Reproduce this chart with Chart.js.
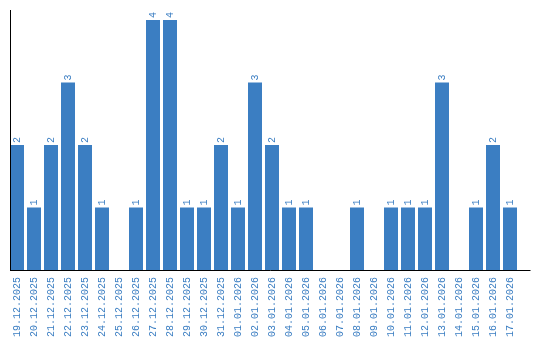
<!DOCTYPE html>
<html>
<head>
<meta charset="utf-8">
<script src="https://cdn.jsdelivr.net/npm/chart.js@4"></script>
<style>
  html, body { margin: 0; padding: 0; background: #fff; }
  #wrap { width: 540px; height: 340px; }
</style>
</head>
<body>
<div id="wrap"><canvas id="grafico"></canvas></div>
<script>
const dias = [
  "19.12.2025", "20.12.2025", "21.12.2025", "22.12.2025", "23.12.2025",
  "24.12.2025", "25.12.2025", "26.12.2025", "27.12.2025", "28.12.2025",
  "29.12.2025", "30.12.2025", "31.12.2025", "01.01.2026", "02.01.2026",
  "03.01.2026", "04.01.2026", "05.01.2026", "06.01.2026", "07.01.2026",
  "08.01.2026", "09.01.2026", "10.01.2026", "11.01.2026", "12.01.2026",
  "13.01.2026", "14.01.2026", "15.01.2026", "16.01.2026", "17.01.2026"
];
const contagem = [2, 1, 2, 3, 2, 1, 0, 1, 4, 4, 1, 1, 2, 1, 3, 2, 1, 1, 0, 0, 1, 0, 1, 1, 1, 3, 0, 1, 2, 1];

const azul = "#3b7ec2";
const fonte = "10px 'Liberation Mono'";

// eixos e rótulos de valor desenhados à mão
const extras = {
  id: "extras",
  afterDatasetsDraw(chart) {
    const ctx = chart.ctx;
    const area = chart.chartArea;
    const barras = chart.getDatasetMeta(0).data;
    const x0 = barras[0].x - barras[0].width / 2;

    ctx.save();
    ctx.strokeStyle = "#000";
    ctx.lineWidth = 1;
    ctx.beginPath();
    ctx.moveTo(x0 + 0.5, area.top);
    ctx.lineTo(x0 + 0.5, area.bottom);
    ctx.moveTo(x0, area.bottom + 0.5);
    ctx.lineTo(area.right + 12, area.bottom + 0.5);
    ctx.stroke();

    ctx.fillStyle = azul;
    ctx.font = fonte;
    ctx.textAlign = "left";
    ctx.textBaseline = "middle";
    barras.forEach((b, i) => {
      if (!contagem[i]) return;
      ctx.save();
      ctx.translate(b.x, b.y - 2);
      ctx.rotate(-Math.PI / 2);
      ctx.fillText(String(contagem[i]), 0, 0);
      ctx.restore();
    });
    ctx.restore();
  }
};

new Chart(document.getElementById("grafico"), {
  type: "bar",
  data: {
    labels: dias,
    datasets: [{
      data: contagem,
      backgroundColor: azul,
      borderWidth: 0,
      barPercentage: 1,
      categoryPercentage: 14 / 17
    }]
  },
  options: {
    responsive: true,
    maintainAspectRatio: false,
    animation: false,
    layout: { padding: { left: 8.5, top: 10, right: 21.5, bottom: 0 } },
    plugins: { legend: { display: false }, tooltip: { enabled: false } },
    scales: {
      y: {
        display: false,
        min: 0,
        max: 4.16
      },
      x: {
        grid: { display: false, drawTicks: false },
        border: { display: false },
        afterFit(scale) { scale.height = 70; },
        ticks: {
          color: azul,
          font: { family: "Liberation Mono", size: 10 },
          minRotation: 90,
          maxRotation: 90,
          padding: 7,
          autoSkip: false
        }
      }
    }
  },
  plugins: [extras]
});
</script>
</body>
</html>
